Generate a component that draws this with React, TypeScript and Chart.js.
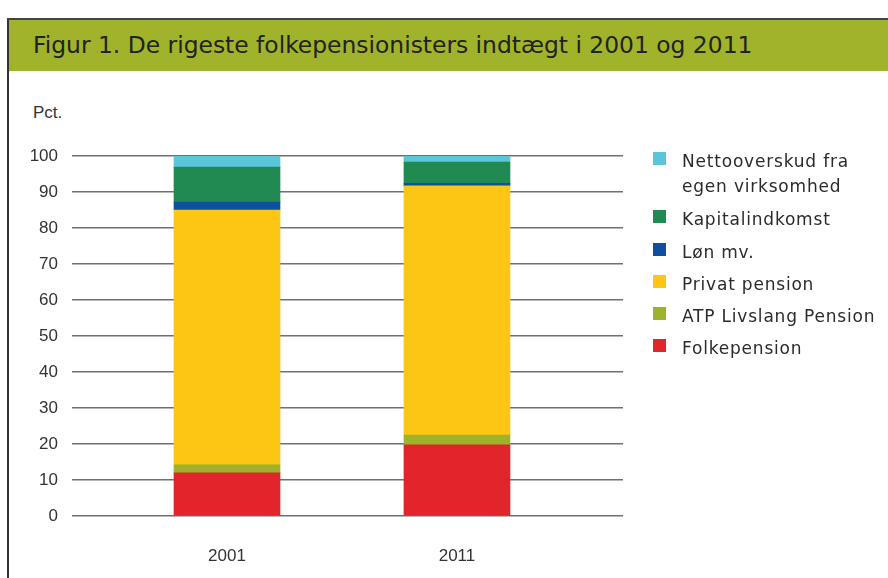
import React, { useEffect, useRef } from "react";
import { Chart, registerables } from "chart.js";

Chart.register(...registerables);

const years = ["2001", "2011"];
const folkepension = [12.0, 19.8];
const atp = [2.2, 2.7];
const privatPension = [70.8, 69.2];
const loen = [2.2, 0.7];
const kapital = [9.7, 5.9];
const netto = [3.1, 1.7];
const yTicks = [0, 10, 20, 30, 40, 50, 60, 70, 80, 90, 100];

const seriesNames = [
  "Folkepension",
  "ATP Livslang Pension",
  "Privat pension",
  "Løn mv.",
  "Kapitalindkomst",
  "Nettooverskud fra egen virksomhed",
];
const seriesColors = ["#e1252a", "#9fb22b", "#fdc514", "#0e4f9e", "#218a52", "#5bc6da"];
const seriesValues = [folkepension, atp, privatPension, loen, kapital, netto];

const FONT = "'Liberation Sans', Arial, sans-serif";
const WIDE = "'DejaVu Sans', sans-serif";

export default function App() {
  const ref = useRef<HTMLCanvasElement | null>(null);

  useEffect(() => {
    if (!ref.current) return;
    const chart = new Chart(ref.current, {
      type: "bar",
      data: {
        datasets: seriesValues.map((vals, si) => ({
          label: seriesNames[si],
          data: vals.map((v, i) => ({ x: i + 1, y: v })),
          backgroundColor: seriesColors[si],
          borderWidth: 0,
          barThickness: 106,
        })),
      },
      options: {
        animation: false,
        responsive: false,
        maintainAspectRatio: false,
        layout: { padding: { left: 0, right: 37, top: 156, bottom: 0 } },
        plugins: { legend: { display: false }, tooltip: { enabled: false } },
        scales: {
          x: {
            type: "linear",
            stacked: true,
            offset: false,
            min: 0.326,
            max: 2.722,
            grid: { display: false, drawTicks: false, offset: false },
            border: { display: false },
            afterBuildTicks: (scale: any) => {
              scale.ticks = years.map((_, i) => ({ value: i + 1 }));
            },
            afterFit: (scale: any) => {
              scale.height = 62;
            },
            ticks: {
              padding: 30,
              color: "#333",
              font: { family: FONT, size: 17 },
              callback: (v: any) => years[Number(v) - 1] ?? "",
            },
          },
          y: {
            stacked: true,
            min: 0,
            max: 100,
            afterBuildTicks: (scale: any) => {
              scale.ticks = yTicks.map((v) => ({ value: v }));
            },
            afterFit: (scale: any) => {
              scale.width = 72;
            },
            grid: { color: "#707070", lineWidth: 1.5, drawTicks: false },
            border: { display: false },
            ticks: {
              padding: 14,
              color: "#333",
              font: { family: FONT, size: 17 },
            },
          },
        },
      },
    });
    return () => chart.destroy();
  }, []);

  const legendItems = seriesNames.map((n, i) => ({ n, c: seriesColors[i] })).reverse();
  const legendTops = [153, 211, 244, 276, 308, 340];

  return (
    <div style={{ position: "absolute", left: 0, top: 0, width: 888, height: 578, background: "#fff", overflow: "hidden", fontFamily: FONT }}>
      <div style={{ position: "absolute", left: 7, top: 18, width: 2, height: 560, background: "#333" }} />
      <div style={{ position: "absolute", left: 7, top: 18, width: 881, height: 2, background: "#444" }} />
      <div style={{ position: "absolute", left: 9, top: 20, width: 879, height: 51, background: "#a0b32a" }} />
      <div style={{ position: "absolute", left: 33, top: 31, fontSize: 23.4, fontFamily: WIDE, color: "#222", whiteSpace: "nowrap", lineHeight: "28px" }}>
        Figur 1. De rigeste folkepensionisters indtægt i 2001 og 2011
      </div>
      <div style={{ position: "absolute", left: 33, top: 103, fontSize: 17, color: "#333", lineHeight: "20px" }}>Pct.</div>
      <canvas ref={ref} width={660} height={578} style={{ position: "absolute", left: 0, top: 0, width: 660, height: 578 }} />
      {legendItems.map((it, i) => (
        <div key={it.n} style={{ position: "absolute", left: 653, top: legendTops[i] - 3 }}>
          <div style={{ position: "absolute", left: 0, top: 2, width: 13, height: 13, background: it.c }} />
          <div style={{ position: "absolute", left: 29, top: -1, width: 230, fontSize: 17, letterSpacing: "0.8px", fontFamily: WIDE, lineHeight: "25px", color: "#2b2b2b", whiteSpace: "nowrap" }}>
            {it.n === "Nettooverskud fra egen virksomhed" ? (
              <>
                Nettooverskud fra
                <br />
                egen virksomhed
              </>
            ) : (
              it.n
            )}
          </div>
        </div>
      ))}
    </div>
  );
}
